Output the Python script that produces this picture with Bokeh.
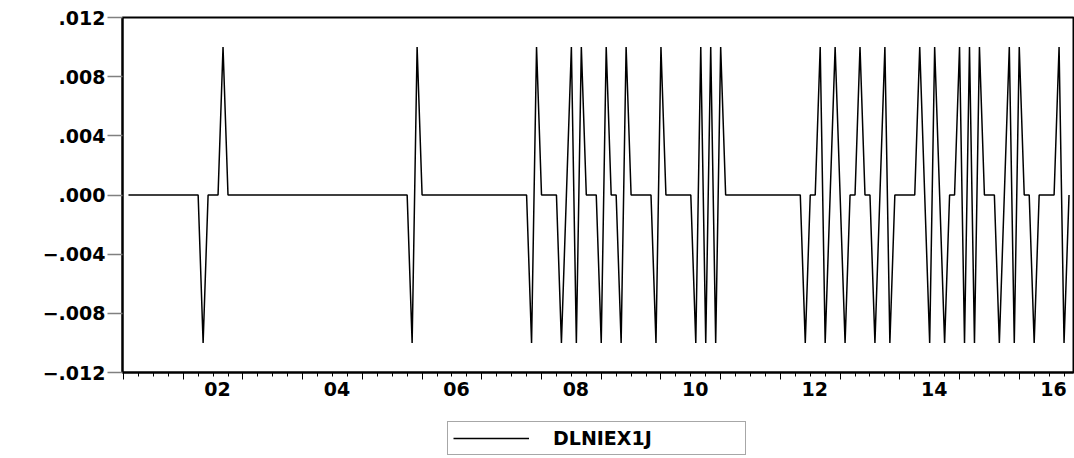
from bokeh.plotting import figure
from bokeh.layouts import column
from bokeh.models import (LinearAxis, FixedTicker, CustomJSTickFormatter, Range1d,
                          Legend, LegendItem, ColumnDataSource)
from bokeh.embed import file_html
from bokeh.resources import INLINE

# DLNIEX1J, monthly first log-differences, 2001M02 - 2016M11 (one row per year)
series_name = "DLNIEX1J"
start_year = 2001
start_month = 2
dlniex1j = (
    [0.0, 0.0, 0.0, 0.0, 0.0, 0.0, 0.0, 0.0, 0.0, 0.0, 0.0] +                          # 2001 (Feb-Dec)
    [0.0, 0.0, 0.0, 0.0, -0.01, 0.0, 0.0, 0.0, 0.01, 0.0, 0.0, 0.0] +                   # 2002
    [0.0, 0.0, 0.0, 0.0, 0.0, 0.0, 0.0, 0.0, 0.0, 0.0, 0.0, 0.0] +                      # 2003
    [0.0, 0.0, 0.0, 0.0, 0.0, 0.0, 0.0, 0.0, 0.0, 0.0, 0.0, 0.0] +                      # 2004
    [0.0, 0.0, 0.0, 0.0, 0.0, 0.0, 0.0, 0.0, 0.0, 0.0, -0.01, 0.01] +                   # 2005
    [0.0, 0.0, 0.0, 0.0, 0.0, 0.0, 0.0, 0.0, 0.0, 0.0, 0.0, 0.0] +                      # 2006
    [0.0, 0.0, 0.0, 0.0, 0.0, 0.0, 0.0, 0.0, 0.0, 0.0, -0.01, 0.01] +                   # 2007
    [0.0, 0.0, 0.0, 0.0, -0.01, 0.0, 0.01, -0.01, 0.01, 0.0, 0.0, 0.0] +                # 2008
    [-0.01, 0.01, 0.0, 0.0, -0.01, 0.01, 0.0, 0.0, 0.0, 0.0, 0.0, -0.01] +              # 2009
    [0.01, 0.0, 0.0, 0.0, 0.0, 0.0, 0.0, -0.01, 0.01, -0.01, 0.01, -0.01] +             # 2010
    [0.01, 0.0, 0.0, 0.0, 0.0, 0.0, 0.0, 0.0, 0.0, 0.0, 0.0, 0.0] +                     # 2011
    [0.0, 0.0, 0.0, 0.0, 0.0, -0.01, 0.0, 0.0, 0.01, -0.01, 0.0, 0.01] +                # 2012
    [0.0, -0.01, 0.0, 0.0, 0.01, 0.0, 0.0, -0.01, 0.0, 0.01, -0.01, 0.0] +              # 2013
    [0.0, 0.0, 0.0, 0.0, 0.01, 0.0, -0.01, 0.01, 0.0, -0.01, 0.0, 0.0] +                # 2014
    [0.01, -0.01, 0.01, -0.01, 0.01, 0.0, 0.0, 0.0, -0.01, 0.0, 0.01, -0.01] +          # 2015
    [0.01, 0.0, 0.0, -0.01, 0.0, 0.0, 0.0, 0.0, 0.01, -0.01, 0.0]                       # 2016 (Jan-Nov)
)
y_ticks = [-0.012, -0.008, -0.004, 0.0, 0.004, 0.008, 0.012]
label_years = [2002, 2004, 2006, 2008, 2010, 2012, 2014, 2016]

# monthly dates as fractional years
t = [start_year + (start_month - 1 + k) / 12.0 for k in range(len(dlniex1j))]
src = ColumnDataSource(dict(t=t, v=dlniex1j))

FONT = "DejaVu Sans"
FSIZE = "19px"
W = 1074
MAIN_H = 410
LEG_H = 48
LEFT = 122

p = figure(width=W, height=MAIN_H, output_backend="svg", toolbar_location=None,
           x_axis_location=None, y_axis_location=None,
           x_range=Range1d(start_year - 0.2 / 12, start_year + 190.9 / 12),
           y_range=Range1d(-0.012, 0.012),
           min_border_left=LEFT, min_border_right=1, min_border_top=17,
           min_border_bottom=MAIN_H - 372)
p.grid.visible = False
p.outline_line_color = "black"
p.outline_line_width = 2
p.background_fill_color = "white"
p.border_fill_color = "white"

p.line("t", "v", source=src, line_color="black", line_width=1.5)

# left axis
yax = LinearAxis(ticker=FixedTicker(ticks=y_ticks, minor_ticks=[]))
yax.formatter = CustomJSTickFormatter(code="""
    const s = Math.abs(tick).toFixed(3).replace(/^0/, '');
    return (tick < -1e-9 ? '\u2212' : '') + s;
""")
yax.axis_line_color = "black"
yax.axis_line_width = 2
yax.major_tick_line_color = "#808080"
yax.major_tick_line_width = 1.5
yax.major_tick_out = 15
yax.major_tick_in = 0
yax.minor_tick_line_color = None
yax.major_label_standoff = 2
yax.major_label_text_font = FONT
yax.major_label_text_font_size = FSIZE
yax.major_label_text_font_style = "bold"
yax.major_label_text_color = "black"
p.add_layout(yax, "left")

# bottom axis: yearly and quarterly tick marks
years = list(range(2001, 2017))
quarters = [y + q / 4.0 for y in years for q in range(4)]
xtick = LinearAxis(ticker=FixedTicker(ticks=years, minor_ticks=quarters))
xtick.formatter = CustomJSTickFormatter(code="return '';")
xtick.axis_line_color = "black"
xtick.axis_line_width = 2
xtick.major_tick_line_color = "black"
xtick.major_tick_out = 7
xtick.major_tick_in = 0
xtick.minor_tick_line_color = "black"
xtick.minor_tick_out = 4
xtick.minor_tick_in = 0
xtick.major_label_text_font_size = "0px"
xtick.major_label_standoff = 0
p.add_layout(xtick, "below")

# bottom axis: two-digit year labels centred on the year
xlab = LinearAxis(ticker=FixedTicker(ticks=[y + 0.575 for y in label_years], minor_ticks=[]))
xlab.formatter = CustomJSTickFormatter(code="""
    return String(Math.floor(tick) % 100).padStart(2, '0');
""")
xlab.axis_line_color = None
xlab.major_tick_line_color = None
xlab.minor_tick_line_color = None
xlab.major_tick_out = 0
xlab.major_tick_in = 0
xlab.major_label_standoff = 2
xlab.major_label_text_font = FONT
xlab.major_label_text_font_size = FSIZE
xlab.major_label_text_font_style = "bold"
xlab.major_label_text_color = "black"
p.add_layout(xlab, "below")

# legend strip under the chart (its frame lines up with the chart frame)
leg = figure(width=W, height=LEG_H, output_backend="svg", toolbar_location=None,
             x_axis_location=None, y_axis_location=None,
             x_range=Range1d(0, 100), y_range=Range1d(0, 100),
             min_border=0, min_border_left=LEFT, min_border_right=1)
leg.grid.visible = False
leg.outline_line_color = None
leg.background_fill_color = "white"
leg.border_fill_color = "white"
# key line kept outside the visible range; only its legend swatch shows
key = leg.line(x=[-20, -10], y=[-20, -20], line_color="black", line_width=1.5)

legend = Legend(items=[LegendItem(label=series_name, renderers=[key])],
                location=(447 - LEFT, 3), orientation="horizontal",
                padding=5, margin=0, glyph_width=76, glyph_height=20,
                label_standoff=24, label_width=187,
                label_text_font=FONT, label_text_font_size=FSIZE,
                label_text_font_style="bold", label_text_color="black",
                border_line_color="#505050", border_line_width=1,
                background_fill_color="white", background_fill_alpha=1.0)
leg.add_layout(legend, "center")

layout = column(p, leg, spacing=0)
open("out.html", "w").write(file_html(layout, INLINE))
